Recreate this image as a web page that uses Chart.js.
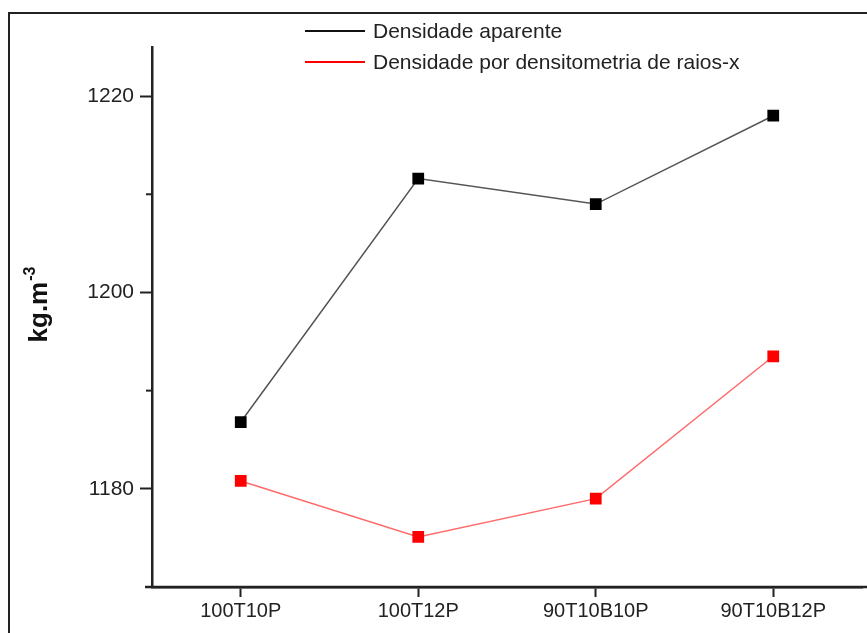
<!DOCTYPE html>
<html lang="pt">
<head>
    <meta charset="UTF-8">
    <title>Densidade</title>
    <script src="https://cdn.jsdelivr.net/npm/chart.js"></script>
    <style>
        html, body { margin: 0; padding: 0; background: #fff; overflow: hidden; }
        #wrap { position: relative; width: 867px; height: 633px; font-family: "Liberation Sans", Arial, sans-serif; }
        #frame { position: absolute; left: 8px; top: 12px; width: 900px; height: 700px;
                 border-left: 2px solid #222; border-top: 2px solid #222; }
        #legend { position: absolute; left: 305px; top: 15px; color: #222; font-size: 21px; }
        .item { display: flex; align-items: center; height: 31px; }
        .swatch { width: 60px; height: 2px; margin-right: 8px; }
        canvas { position: absolute; left: 0; top: 0; }
    </style>
</head>
<body>
    <div id="wrap">
        <div id="frame"></div>
        <canvas id="chart" width="867" height="633"></canvas>
        <div id="legend"></div>
    </div>
    <script>
        const categories = ['100T10P', '100T12P', '90T10B10P', '90T10B12P'];
        const aparente = [1186.8, 1211.6, 1209.0, 1218.0];
        const raiosX = [1180.8, 1175.1, 1179.0, 1193.5];
        const majorTicks = [1180, 1200, 1220];
        const minorTicks = [1190, 1210];

        const series = [
            { label: 'Densidade aparente', data: aparente, line: '#555', point: '#000', key: '#111' },
            { label: 'Densidade por densitometria de raios-x', data: raiosX, line: '#ff6b6b', point: '#ff0000', key: '#ff0000' }
        ];

        // legend as html
        const legend = document.getElementById('legend');
        series.forEach(s => {
            const row = document.createElement('div');
            row.className = 'item';
            const sw = document.createElement('span');
            sw.className = 'swatch';
            sw.style.background = s.key;
            const txt = document.createElement('span');
            txt.textContent = s.label;
            row.appendChild(sw);
            row.appendChild(txt);
            legend.appendChild(row);
        });

        // minor ticks, axis overhangs, y title with superscript
        const extras = {
            id: 'extras',
            afterDraw(chart) {
                const c = chart.ctx;
                const y = chart.scales.y;
                const area = chart.chartArea;
                c.save();
                c.strokeStyle = '#222';
                c.lineWidth = 2;
                minorTicks.forEach(v => {
                    const py = y.getPixelForValue(v);
                    c.beginPath();
                    c.moveTo(y.right - 6, py);
                    c.lineTo(y.right, py);
                    c.stroke();
                });
                // x axis line runs a bit past both ends
                c.beginPath();
                c.moveTo(y.right - 7, area.bottom);
                c.lineTo(chart.width, area.bottom);
                c.lineWidth = 2.5;
                c.stroke();

                c.translate(47, 305);
                c.rotate(-Math.PI / 2);
                c.fillStyle = '#111';
                c.textBaseline = 'alphabetic';
                c.font = 'bold 26px "Liberation Sans", Arial, sans-serif';
                const main = 'kg.m';
                const w = c.measureText(main).width;
                c.font = 'bold 16px "Liberation Sans", Arial, sans-serif';
                const w2 = c.measureText('-3').width;
                const x0 = -(w + w2) / 2;
                c.font = 'bold 26px "Liberation Sans", Arial, sans-serif';
                c.fillText(main, x0, 0);
                c.font = 'bold 16px "Liberation Sans", Arial, sans-serif';
                c.fillText('-3', x0 + w + 1, -12);
                c.restore();
            }
        };

        Chart.defaults.font.family = '"Liberation Sans", Arial, sans-serif';
        Chart.defaults.color = '#222';

        new Chart(document.getElementById('chart'), {
            type: 'line',
            data: {
                labels: categories,
                datasets: series.map(s => ({
                    label: s.label,
                    data: s.data,
                    borderColor: s.line,
                    borderWidth: 1.5,
                    pointStyle: 'rect',
                    pointRadius: 8.3,
                    pointBackgroundColor: s.point,
                    pointBorderColor: s.point,
                    pointBorderWidth: 0,
                    tension: 0
                }))
            },
            options: {
                responsive: false,
                animation: false,
                layout: { autoPadding: false, padding: { top: 47, right: 5, bottom: 0, left: 0 } },
                plugins: {
                    legend: { display: false },
                    tooltip: { enabled: false }
                },
                scales: {
                    x: {
                        offset: true,
                        border: { color: '#222', width: 2.5 },
                        grid: { drawOnChartArea: false, tickLength: 10, tickColor: '#222', tickWidth: 2 },
                        ticks: { font: { size: 20 }, padding: 2, maxRotation: 0 },
                        afterFit(scale) {
                            scale.height = 46;
                            scale.paddingLeft = 0;
                            scale.paddingRight = 0;
                        }
                    },
                    y: {
                        min: 1170,
                        max: 1225,
                        afterBuildTicks(scale) { scale.ticks = majorTicks.map(v => ({ value: v })); },
                        border: { color: '#222', width: 2.5 },
                        grid: { drawOnChartArea: false, tickLength: 12, tickColor: '#222', tickWidth: 2 },
                        ticks: { font: { size: 21 }, padding: 6, callback: v => String(v) },
                        afterFit(scale) { scale.width = 152; }
                    }
                }
            },
            plugins: [extras]
        });
    </script>
</body>
</html>
